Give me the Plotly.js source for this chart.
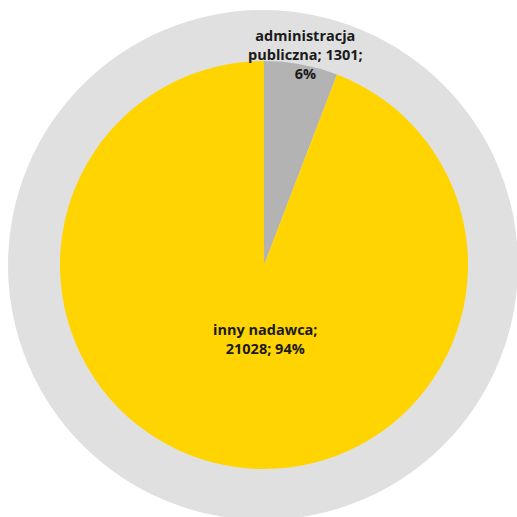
<!DOCTYPE html>
<html>
<head>
<meta charset="utf-8">
<script src="https://cdn.plot.ly/plotly-3.0.1.min.js"></script>
<style>html,body{margin:0;padding:0;background:#fff;}#chart{width:517px;height:517px;}</style>
</head>
<body>
<div id="chart"></div>
<script>
const labels = ["administracja publiczna", "inny nadawca"];
const values = [1301, 21028];
const percents = ["6%", "94%"];
const labelLines = [["administracja", "publiczna; 1301;", "6%"], ["inny nadawca;", "21028; 94%"]];
const colors = ["#b3b3b3", "#ffd400"];

const texts = labelLines.map(l => l.join("<br>"));
const labelPos = [[305, 54], [265, 339]];

const W = 517, H = 517;
const trace = {
  type: "pie",
  labels: labels,
  values: values,
  textinfo: "none",
  hoverinfo: "label+value+percent",
  sort: false,
  direction: "clockwise",
  rotation: 0,
  marker: {colors: colors, line: {width: 0}},
  automargin: false,
  showlegend: false,
  domain: {x: [60 / W, 468 / W], y: [(H - 469) / H, (H - 61) / H]}
};

const annotations = texts.map((t, i) => ({
  text: t, xref: "paper", yref: "paper",
  x: labelPos[i][0] / W, y: 1 - labelPos[i][1] / H,
  xanchor: "center", yanchor: "middle", align: "center", showarrow: false,
  font: {family: "Open Sans", size: 14.5, color: "#1a1a1a", weight: "bold"}
}));

const layout = {
  width: W, height: H,
  margin: {l: 0, r: 0, t: 0, b: 0},
  paper_bgcolor: "#ffffff",
  showlegend: false,
  annotations: annotations,
  shapes: [{
    type: "circle", xref: "paper", yref: "paper", layer: "below",
    x0: 8 / W, x1: 518 / W, y0: (H - 520) / H, y1: (H - 10) / H,
    fillcolor: "#e0e0e0", line: {width: 0}
  }]
};

Plotly.newPlot("chart", [trace], layout, {displayModeBar: false, staticPlot: true});
</script>
</body>
</html>
